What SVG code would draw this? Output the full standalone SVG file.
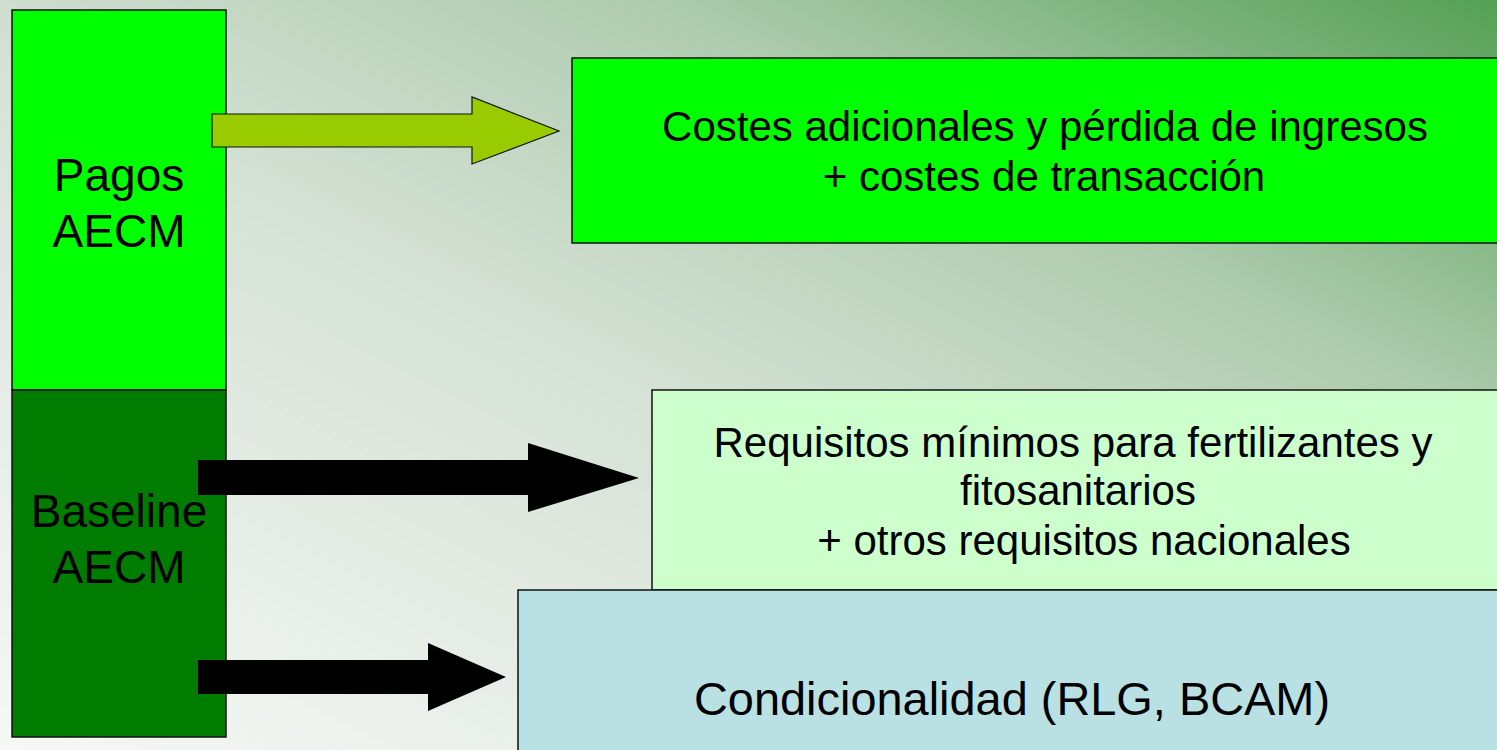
<svg xmlns="http://www.w3.org/2000/svg" width="1497" height="750" viewBox="0 0 1497 750">
  <defs>
    <linearGradient id="bg" x1="0" y1="1" x2="1" y2="0">
      <stop offset="0" stop-color="#f6f8f6"/>
      <stop offset="0.45" stop-color="#d6e2d6"/>
      <stop offset="0.72" stop-color="#aecbae"/>
      <stop offset="1" stop-color="#55a055"/>
    </linearGradient>
    <style>
      .box { stroke: #111; stroke-width: 1.5; }
      .lbl { font-family: "Liberation Sans", Arial, sans-serif; fill: #000; text-anchor: middle; }
      .side { font-size: 46px; }
      .body { font-size: 42px; }
    </style>
  </defs>
  <rect x="0" y="0" width="1497" height="750" fill="url(#bg)"/>

  <g id="node-pagos">
    <rect class="box" x="12" y="10" width="214" height="380" fill="#00ff00"/>
    <text class="lbl side" x="119" y="191">Pagos</text>
    <text class="lbl side" x="119" y="247">AECM</text>
  </g>
  <g id="node-baseline">
    <rect class="box" x="12" y="390" width="214" height="347" fill="#007d00"/>
    <text class="lbl side" x="119" y="527">Baseline</text>
    <text class="lbl side" x="119" y="583">AECM</text>
  </g>
  <g id="node-costes">
    <rect class="box" x="572" y="58" width="935" height="185" fill="#00ff00"/>
    <text class="lbl body" x="1045" y="141">Costes adicionales y pérdida de ingresos</text>
    <text class="lbl body" x="1044" y="191">+ costes de transacción</text>
  </g>
  <g id="node-requisitos">
    <rect class="box" x="652" y="390" width="855" height="200" fill="#ccffcc"/>
    <text class="lbl body" x="1073" y="457">Requisitos mínimos para fertilizantes y</text>
    <text class="lbl body" x="1078" y="505">fitosanitarios</text>
    <text class="lbl body" x="1084" y="555">+ otros requisitos nacionales</text>
  </g>
  <g id="node-condicionalidad">
    <rect class="box" x="518" y="590" width="989" height="170" fill="#b9e0e3"/>
    <text class="lbl" x="1012" y="715" font-size="47" textLength="636" lengthAdjust="spacingAndGlyphs">Condicionalidad (RLG, BCAM)</text>
  </g>

  <g id="connectors">
    <polygon points="212,114 472,114 472,97 559,131 472,164 472,147 212,147" fill="#99cc00" stroke="#111" stroke-width="1.2"/>
    <polygon points="198,460 528,460 528,443 639,478 528,512 528,495 198,495" fill="#000"/>
    <polygon points="198,660 428,660 428,643 506,677 428,711 428,694 198,694" fill="#000"/>
  </g>
</svg>
